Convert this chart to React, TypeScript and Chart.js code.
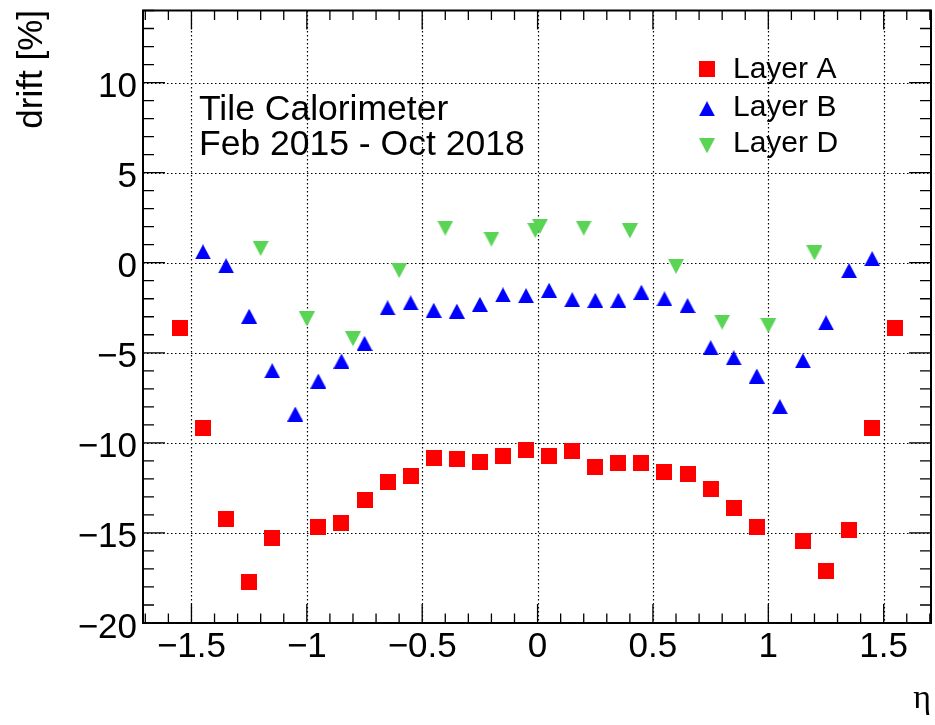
import React, { useEffect, useRef } from "react";
import { Chart, registerables } from "chart.js";

Chart.register(...registerables);

// ---- data ----
const etaA = [
  -1.55, -1.45, -1.35, -1.25, -1.15, -0.95, -0.85, -0.75, -0.65, -0.55, -0.45, -0.35, -0.25, -0.15, -0.05,
  0.05, 0.15, 0.25, 0.35, 0.45, 0.55, 0.65, 0.75, 0.85, 0.95, 1.15, 1.25, 1.35, 1.45, 1.55,
];
const driftA = [
  -3.62, -9.16, -14.2, -17.73, -15.3, -14.68, -14.46, -13.17, -12.16, -11.86, -10.85, -10.87, -11.05, -10.72, -10.39,
  -10.75, -10.44, -11.33, -11.14, -11.14, -11.6, -11.75, -12.56, -13.6, -14.68, -15.44, -17.12, -14.81, -9.15, -3.63,
];
const etaB = [
  -1.45, -1.35, -1.25, -1.15, -1.05, -0.95, -0.85, -0.75, -0.65, -0.55, -0.45, -0.35, -0.25, -0.15, -0.05,
  0.05, 0.15, 0.25, 0.35, 0.45, 0.55, 0.65, 0.75, 0.85, 0.95, 1.05, 1.15, 1.25, 1.35, 1.45,
];
const driftB = [
  0.6, -0.17, -2.97, -6.0, -8.4, -6.57, -5.46, -4.48, -2.51, -2.23, -2.64, -2.69, -2.31, -1.79, -1.83,
  -1.53, -2.05, -2.09, -2.09, -1.64, -2.01, -2.38, -4.72, -5.28, -6.29, -7.99, -5.44, -3.34, -0.44, 0.22,
];
const etaD = [-1.2, -1.0, -0.8, -0.6, -0.4, -0.2, -0.01, 0.01, 0.2, 0.4, 0.6, 0.8, 1.0, 1.2];
const driftD = [0.79, -3.12, -4.22, -0.43, 1.92, 1.31, 1.79, 2.02, 1.92, 1.77, -0.2, -3.3, -3.49, 0.54];

const seriesLabels = ["Layer A", "Layer B", "Layer D"];
const seriesColors = ["#ff0000", "#0000ff", "#59d454"];
const xTicks = [-1.5, -1, -0.5, 0, 0.5, 1, 1.5];
const yTicks = [-20, -15, -10, -5, 0, 5, 10];
const xRange = [-1.71, 1.705];
const yRange = [-20, 14];
const xMinorStep = 0.1;
const yMinorStep = 1;
const infoLines = ["Tile Calorimeter", "Feb 2015 - Oct 2018"];
const yTitle = "drift [%]";
const xTitle = "\u03b7";

const FONT = '"Liberation Sans", Arial, Helvetica, sans-serif';

function fmt(v: number): string {
  return (v < 0 ? "\u2212" : "") + String(Math.abs(v));
}

function makeMarker(kind: "square" | "up" | "down", color: string): HTMLCanvasElement {
  const c = document.createElement("canvas");
  const w = 16;
  const h = kind === "square" ? 16 : 15;
  c.width = w;
  c.height = h;
  const g = c.getContext("2d")!;
  g.fillStyle = color;
  if (kind === "square") {
    g.fillRect(0, 0, w, h);
  } else if (kind === "up") {
    g.beginPath();
    g.moveTo(w / 2, 0);
    g.lineTo(w, h);
    g.lineTo(0, h);
    g.closePath();
    g.fill();
  } else {
    g.beginPath();
    g.moveTo(0, 0);
    g.lineTo(w, 0);
    g.lineTo(w / 2, h);
    g.closePath();
    g.fill();
  }
  return c;
}

const rootFrame = {
  id: "rootFrame",
  beforeDatasetsDraw(chart: any) {
    const { ctx, chartArea: a, scales } = chart;
    const x = scales.x;
    const y = scales.y;
    ctx.save();
    ctx.strokeStyle = "#000";
    ctx.lineWidth = 1.2;
    ctx.setLineDash([1.5, 2.5]);
    const top = Math.round(a.top);
    const bottom = Math.round(a.bottom);
    const left = Math.round(a.left);
    const right = Math.round(a.right);
    for (const v of xTicks) {
      const px = Math.round(x.getPixelForValue(v)) + 0.5;
      ctx.beginPath();
      ctx.moveTo(px, top);
      ctx.lineTo(px, bottom);
      ctx.stroke();
    }
    for (const v of yTicks) {
      if (v <= yRange[0]) continue;
      const py = Math.round(y.getPixelForValue(v)) + 0.5;
      ctx.beginPath();
      ctx.moveTo(left, py);
      ctx.lineTo(right, py);
      ctx.stroke();
    }
    ctx.restore();
  },
  afterDatasetsDraw(chart: any) {
    const { ctx, chartArea: a, scales } = chart;
    const x = scales.x;
    const y = scales.y;
    ctx.save();
    ctx.setLineDash([]);
    ctx.strokeStyle = "#000";

    // ticks
    ctx.lineWidth = 1.3;
    const xi0 = Math.ceil(xRange[0] / xMinorStep - 1e-9);
    const xi1 = Math.floor(xRange[1] / xMinorStep + 1e-9);
    for (let i = xi0; i <= xi1; i++) {
      const v = i * xMinorStep;
      const major = Math.abs(v / 0.5 - Math.round(v / 0.5)) < 1e-6;
      const len = major ? 19 : 9.5;
      const px = x.getPixelForValue(v);
      ctx.beginPath();
      ctx.moveTo(px, a.bottom);
      ctx.lineTo(px, a.bottom - len);
      ctx.moveTo(px, a.top);
      ctx.lineTo(px, a.top + len);
      ctx.stroke();
    }
    for (let v = yRange[0]; v <= yRange[1] + 1e-9; v += yMinorStep) {
      const major = Math.abs(v / 5 - Math.round(v / 5)) < 1e-6;
      const len = major ? 22 : 11;
      const py = y.getPixelForValue(v);
      ctx.beginPath();
      ctx.moveTo(a.left, py);
      ctx.lineTo(a.left + len, py);
      ctx.moveTo(a.right, py);
      ctx.lineTo(a.right - len, py);
      ctx.stroke();
    }

    // frame
    ctx.lineWidth = 2;
    ctx.strokeRect(a.left, a.top, a.right - a.left, a.bottom - a.top);

    // tick labels
    ctx.fillStyle = "#000";
    ctx.font = `35px ${FONT}`;
    ctx.textBaseline = "alphabetic";
    ctx.textAlign = "right";
    for (const v of yTicks) {
      ctx.fillText(fmt(v), a.left - 6, y.getPixelForValue(v) + 14.5);
    }
    ctx.textAlign = "center";
    for (const v of xTicks) {
      ctx.fillText(fmt(v), x.getPixelForValue(v), a.bottom + 34);
    }

    // axis titles
    ctx.save();
    ctx.translate(42, 10);
    ctx.rotate(-Math.PI / 2);
    ctx.textAlign = "right";
    ctx.fillText(yTitle, 0, 0);
    ctx.restore();

    ctx.font = `34px "Liberation Serif", "DejaVu Serif", serif`;
    ctx.textAlign = "right";
    ctx.fillText(xTitle, 931, 708);

    // info text
    ctx.font = `35.5px ${FONT}`;
    ctx.textAlign = "left";
    ctx.fillText(infoLines[0], 199, 119.5);
    ctx.fillText(infoLines[1], 199, 155);

    // legend
    const rowsMarker = [69.3, 108.7, 145.7];
    const rowsText = [78, 115.5, 152];
    ctx.font = `30px ${FONT}`;
    chart.data.datasets.forEach((ds: any, i: number) => {
      const img = ds.pointStyle as HTMLCanvasElement;
      ctx.drawImage(img, 707 - img.width / 2, rowsMarker[i] - img.height / 2);
      ctx.fillText(ds.label, 733, rowsText[i]);
    });
    ctx.restore();
  },
};

export default function App() {
  const ref = useRef<HTMLCanvasElement | null>(null);
  useEffect(() => {
    const canvas = ref.current;
    if (!canvas) return;
    const markers = [
      makeMarker("square", seriesColors[0]),
      makeMarker("up", seriesColors[1]),
      makeMarker("down", seriesColors[2]),
    ];
    const series = [
      { xs: etaA, ys: driftA },
      { xs: etaB, ys: driftB },
      { xs: etaD, ys: driftD },
    ];
    const chart = new Chart(canvas, {
      type: "scatter",
      data: {
        datasets: series.map((s, i) => ({
          label: seriesLabels[i],
          data: s.xs.map((v, j) => ({ x: v, y: s.ys[j] })),
          pointStyle: markers[i] as any,
          pointRadius: 8,
          pointHoverRadius: 8,
          backgroundColor: seriesColors[i],
          borderColor: seriesColors[i],
          showLine: false,
        })),
      },
      options: {
        responsive: false,
        animation: false,
        events: [],
        devicePixelRatio: 1,
        layout: { autoPadding: false, padding: { left: 143, right: 4, top: 10.5, bottom: 102 } },
        plugins: {
          legend: { display: false },
          tooltip: { enabled: false },
        },
        scales: {
          x: { type: "linear", min: xRange[0], max: xRange[1], display: false },
          y: { type: "linear", min: yRange[0], max: yRange[1], display: false },
        },
      },
      plugins: [rootFrame],
    });
    return () => chart.destroy();
  }, []);
  return (
    <div style={{ position: "absolute", left: 0, top: 0, width: 935, height: 725, background: "#fff" }}>
      <canvas ref={ref} width={935} height={725} style={{ width: 935, height: 725, display: "block" }} />
    </div>
  );
}
